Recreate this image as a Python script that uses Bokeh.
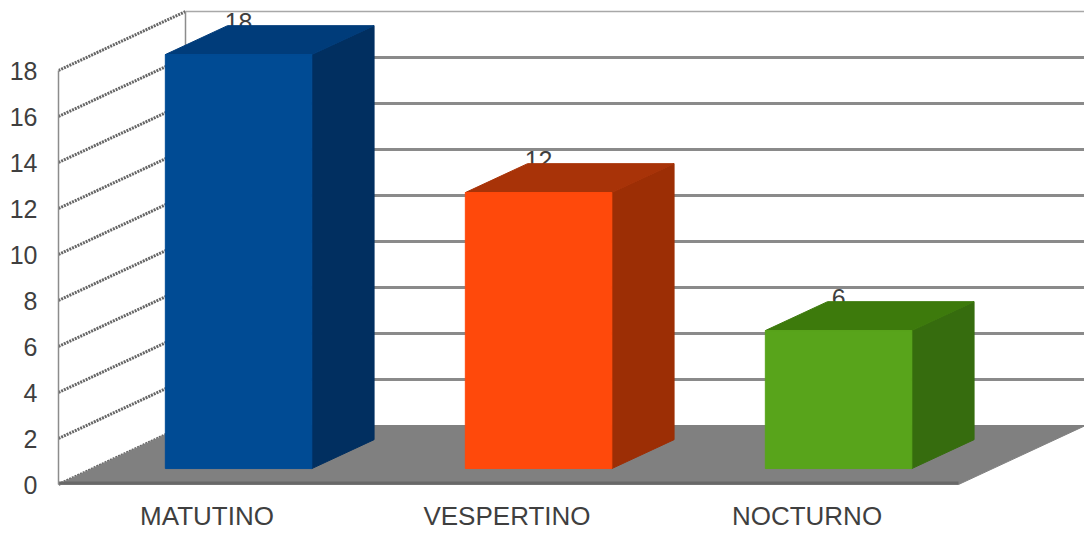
from bokeh.embed import file_html
from bokeh.resources import INLINE
from bokeh.plotting import figure
from bokeh.models import Range1d, FixedTicker
from bokeh.core.properties import value as fixed

# Chart content
categories = ["MATUTINO", "VESPERTINO", "NOCTURNO"]
counts = [18, 12, 6]
y_ticks = [0, 2, 4, 6, 8, 10, 12, 14, 16, 18]
front_colors = ["#004b94", "#ff490b", "#58a41b"]
top_colors = ["#003c7a", "#a83308", "#3d7a0c"]
side_colors = ["#012f60", "#9c2e05", "#366c0e"]

# Oblique projection: one unit of depth shifts a point right and up in data units
PX_PER_CAT = 300
PX_PER_UNIT = 23
DEPTH_X = 127 / PX_PER_CAT
DEPTH_Y = 59 / PX_PER_UNIT
BAR_WIDTH = 146.5 / PX_PER_CAT
BAR_FRONT = 0.27
BAR_BACK = 0.76
BAR_SHIFT = -0.014
LABEL_SHIFT = -0.005
AXIS_MAX = y_ticks[-1]
N = len(categories)
BELOW_ZERO = 14 / PX_PER_UNIT  # room under the floor, inside the frame


def project(x, v, depth):
    return x + depth * DEPTH_X, v + depth * DEPTH_Y


def quad(points):
    pts = [project(*pt) for pt in points]
    return [a for a, _ in pts], [b for _, b in pts]


p = figure(
    width=1084, height=533, output_backend="svg", toolbar_location=None,
    x_range=Range1d(0, 1026 / PX_PER_CAT),
    y_range=Range1d(-BELOW_ZERO, 484 / PX_PER_UNIT),
    min_border_left=58, min_border_right=0, min_border_top=0, min_border_bottom=35,
    background_fill_color="white", border_fill_color="white",
)
p.outline_line_color = None
p.grid.visible = False

# Axes
yax = p.yaxis[0]
yax.ticker = FixedTicker(ticks=y_ticks)
yax.bounds = (0, AXIS_MAX)
yax.major_tick_line_color = None
yax.major_tick_out = 0
yax.major_tick_in = 0
yax.minor_tick_line_color = None
yax.minor_tick_out = 0
yax.axis_line_color = "#8c8c8c"
yax.axis_line_width = 1.5
yax.major_label_standoff = 21
yax.major_label_text_font = "Liberation Sans"
yax.major_label_text_font_size = "25px"
yax.major_label_text_color = "#3f3f3f"

xax = p.xaxis[0]
xax.ticker = FixedTicker(ticks=[i + 0.5 + LABEL_SHIFT for i in range(N)])
xax.major_label_overrides = {i + 0.5 + LABEL_SHIFT: c for i, c in enumerate(categories)}
xax.major_tick_line_color = None
xax.major_tick_out = 0
xax.major_tick_in = 0
xax.minor_tick_line_color = None
xax.minor_tick_out = 0
xax.axis_line_color = None
xax.major_label_standoff = 2
xax.major_label_text_font = "Liberation Sans"
xax.major_label_text_font_size = "26px"
xax.major_label_text_color = "#3f3f3f"
xax.major_label_text_line_height = 0.8

x_far = 1026 / PX_PER_CAT

# Left wall edge at the back and its sloping grid lines
wall_xs, wall_ys = [], []
for t in y_ticks:
    a, b = quad([(0, t, 0), (0, t, 1)])
    wall_xs.append(a)
    wall_ys.append(b)
p.multi_line(wall_xs, wall_ys, line_color="#666666", line_width=3, line_dash="2 1")

a, b = quad([(0, 0, 1), (0, AXIS_MAX, 1)])
p.line(a, b, line_color="#8c8c8c", line_width=1.5)

# Back wall grid lines
back_y = [project(0, t, 1)[1] for t in y_ticks[1:]]
p.multi_line(
    [[DEPTH_X, x_far] for _ in back_y], [[y, y] for y in back_y],
    line_color=["#8a8a8a"] * (len(back_y) - 1) + ["#a8a8a8"],
    line_width=[3] * (len(back_y) - 1) + [1.5],
)

# Floor
a, b = quad([(0, 0, 0), (N, 0, 0), (N, 0, 1), (0, 0, 1)])
p.patch(a, b, fill_color="#808080", line_color="#808080", line_width=1)
p.line([0, N], [0.06, 0.06], line_color="#686868", line_width=3)

# Value labels sit behind the bars, so the bar tops cut through them
centers = [i + 0.5 + BAR_SHIFT for i in range(N)]
label_x = [project(c, 0, BAR_FRONT)[0] for c in centers]
label_y = [project(0, v, BAR_BACK)[1] for v in counts]
p.text(
    label_x, label_y, text=[str(v) for v in counts],
    text_font=fixed("Liberation Sans"), text_font_size="25px", text_color="#3f3f3f",
    text_align="center", text_baseline="alphabetic", y_offset=-4,
)

# Bars as three visible faces
for c, v, fc, tc, sc in zip(centers, counts, front_colors, top_colors, side_colors):
    l, r = c - BAR_WIDTH / 2, c + BAR_WIDTH / 2
    a, b = quad([(r, 0, BAR_FRONT), (r, 0, BAR_BACK), (r, v, BAR_BACK), (r, v, BAR_FRONT)])
    p.patch(a, b, fill_color=sc, line_color=sc)
    a, b = quad([(l, v, BAR_FRONT), (r, v, BAR_FRONT), (r, v, BAR_BACK), (l, v, BAR_BACK)])
    p.patch(a, b, fill_color=tc, line_color=tc)
    a, b = quad([(l, 0, BAR_FRONT), (r, 0, BAR_FRONT), (r, v, BAR_FRONT), (l, v, BAR_FRONT)])
    p.patch(a, b, fill_color=fc, line_color=fc)

open("out.html", "w").write(file_html(p, INLINE))
